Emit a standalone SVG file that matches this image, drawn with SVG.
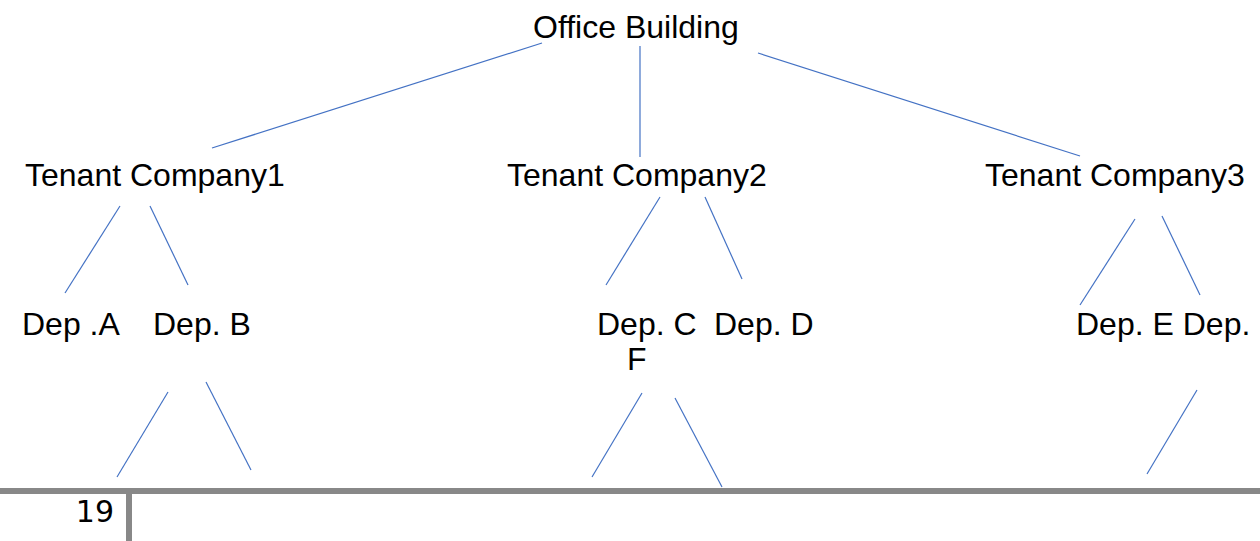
<svg xmlns="http://www.w3.org/2000/svg" width="1260" height="541" viewBox="0 0 1260 541">
<style>
.t{font-family:"Liberation Sans",Arial,sans-serif;font-size:32px;fill:#000}
.c line{stroke:#4472C4;stroke-width:1.2}
.pg{font-family:"DejaVu Sans",sans-serif;font-size:30px;fill:#000}
</style>
<rect width="1260" height="541" fill="#fff"/>
<g id="connectors" class="c">
<line x1="542" y1="43" x2="212" y2="148"/>
<line x1="640" y1="46" x2="640" y2="157"/>
<line x1="758" y1="53" x2="1080" y2="156"/>
<line x1="120" y1="206" x2="65" y2="293"/>
<line x1="150" y1="206" x2="188" y2="285"/>
<line x1="660" y1="197" x2="606" y2="285"/>
<line x1="705" y1="197" x2="742" y2="279"/>
<line x1="1135" y1="219" x2="1080" y2="305"/>
<line x1="1162" y1="216" x2="1200" y2="295"/>
<line x1="168" y1="392" x2="117" y2="477"/>
<line x1="206" y1="382" x2="251" y2="470"/>
<line x1="642" y1="393" x2="592" y2="477"/>
<line x1="675" y1="398" x2="722" y2="487"/>
<line x1="1197" y1="390" x2="1147" y2="474"/>
</g>
<g id="office"><text class="t" x="533" y="38">Office Building</text></g>
<g id="tc1"><text class="t" x="25" y="186">Tenant Company1</text></g>
<g id="tc2"><text class="t" x="507" y="186">Tenant Company2</text></g>
<g id="tc3"><text class="t" x="985" y="186">Tenant Company3</text></g>
<g id="depA"><text class="t" x="22" y="335">Dep .A</text></g>
<g id="depB"><text class="t" x="153" y="335">Dep. B</text></g>
<g id="depC"><text class="t" x="597" y="335">Dep. C</text><text class="t" x="627" y="370">F</text></g>
<g id="depD"><text class="t" x="714" y="335">Dep. D</text></g>
<g id="depE"><text class="t" x="1076" y="335">Dep. E Dep.</text></g>
<g id="footer">
<rect x="0" y="488" width="1260" height="6" fill="#888"/>
<rect x="126" y="488" width="6" height="53" fill="#888"/>
<text class="pg" x="114" y="522" text-anchor="end">19</text>
</g>
</svg>
